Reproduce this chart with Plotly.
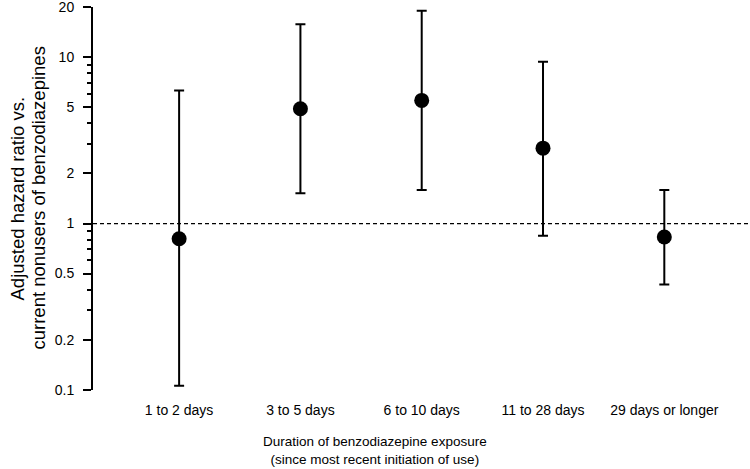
import plotly.graph_objects as go

durations = ["1 to 2 days", "3 to 5 days", "6 to 10 days", "11 to 28 days", "29 days or longer"]
hazard_ratio = [0.81, 4.9, 5.5, 2.84, 0.83]
ci_upper = [6.3, 15.8, 19.0, 9.4, 1.59]
ci_lower = [0.106, 1.52, 1.59, 0.845, 0.43]

major_ticks = [0.1, 0.2, 0.5, 1, 2, 5, 10, 20]
major_labels = ["0.1", "0.2", "0.5", "1", "2", "5", "10", "20"]
minor_ticks = [0.3, 0.4, 0.6, 0.7, 0.8, 0.9, 3, 4, 6, 7, 8, 9]

y_title = ["Adjusted hazard ratio vs.", "current nonusers of benzodiazepines"]

font = "Liberation Sans, Arial, Helvetica, sans-serif"

fig = go.Figure(
    go.Scatter(
        x=list(range(len(durations))),
        y=hazard_ratio,
        mode="markers",
        marker=dict(color="black", size=15),
        error_y=dict(
            type="data",
            symmetric=False,
            array=[u - v for u, v in zip(ci_upper, hazard_ratio)],
            arrayminus=[v - l for v, l in zip(hazard_ratio, ci_lower)],
            color="black",
            thickness=2,
            width=5,
        ),
        hoverinfo="skip",
    )
)

# reference line at HR = 1
fig.add_shape(
    type="line", xref="paper", yref="y",
    x0=0, x1=1, y0=1, y1=1,
    line=dict(color="black", width=1.3, dash="4px,3px"),
    layer="below",
)

fig.update_layout(
    width=750,
    height=469,
    margin=dict(l=93, r=2, t=7, b=79),
    plot_bgcolor="white",
    paper_bgcolor="white",
    font=dict(family=font, color="black", size=14),
    showlegend=False,
)

fig.update_xaxes(
    range=[-0.71, 4.69],
    tickvals=list(range(len(durations))),
    ticktext=durations,
    showline=False,
    showgrid=False,
    zeroline=False,
    ticks="",
    ticklabelstandoff=10,
    tickfont=dict(size=14),
    automargin=False,
)

fig.update_yaxes(
    type="log",
    range=[-1.001, 1.3020],
    tickvals=major_ticks,
    ticktext=major_labels,
    showline=True,
    linecolor="black",
    linewidth=2,
    showgrid=False,
    zeroline=False,
    ticks="outside",
    ticklen=8,
    tickwidth=2,
    tickcolor="black",
    ticklabelstandoff=6,
    ticklabeloverflow="allow",
    tickfont=dict(size=14),
    minor=dict(tickvals=minor_ticks, ticks="outside", ticklen=4, tickwidth=1.5, tickcolor="black"),
    automargin=False,
)

# y title as two rotated lines (tighter spacing than plotly's <br>)
for px_x, line in zip([17, 38], y_title):
    fig.add_annotation(
        text=line,
        xref="paper", yref="paper",
        x=(px_x - 93) / 655, y=0.5,
        xanchor="center", yanchor="middle",
        textangle=-90,
        showarrow=False,
        font=dict(size=18.5),
    )

fig.add_annotation(
    text="Duration of benzodiazepine exposure<br>(since most recent initiation of use)",
    xref="paper", yref="paper",
    x=(375 - 93) / 655, y=-42 / 383,
    xanchor="center", yanchor="top",
    showarrow=False,
    font=dict(size=13.5),
)

fig.write_html(
    "out.html",
    config={"displayModeBar": False},
    post_script="document.body.style.margin='0';",
)
